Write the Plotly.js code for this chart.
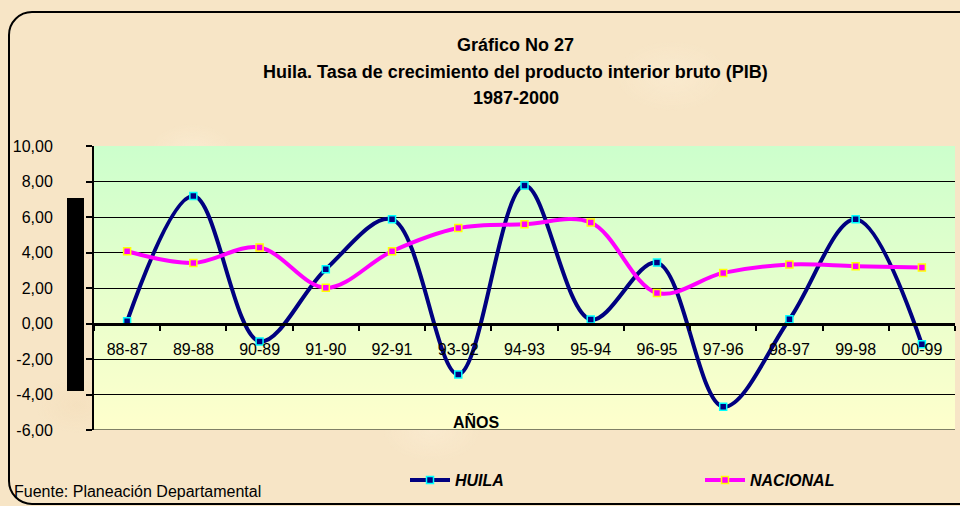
<!DOCTYPE html>
<html>
<head>
<meta charset="utf-8">
<script src="https://cdn.plot.ly/plotly-3.0.1.min.js"></script>
<style>
  html, body { margin: 0; padding: 0; width: 960px; height: 506px; overflow: hidden; }
  body {
    background-color: #f7e5c6;
    background-image:
      radial-gradient(ellipse 60px 40px at 20% 30%, rgba(255,243,222,0.4), rgba(255,243,222,0) 70%),
      radial-gradient(ellipse 80px 50px at 70% 15%, rgba(255,243,222,0.35), rgba(255,243,222,0) 70%),
      radial-gradient(ellipse 70px 45px at 45% 85%, rgba(255,243,222,0.35), rgba(255,243,222,0) 70%),
      radial-gradient(ellipse 90px 40px at 90% 70%, rgba(240,215,175,0.3), rgba(240,215,175,0) 70%),
      radial-gradient(ellipse 60px 40px at 8% 80%, rgba(240,215,175,0.3), rgba(240,215,175,0) 70%);
  }
  #frame {
    position: absolute; left: 8px; top: 11px; width: 980px; height: 494px;
    border: 2px solid #000; border-radius: 24px; box-sizing: border-box; pointer-events: none;
  }
  #chart { position: absolute; left: 0; top: 0; width: 960px; height: 506px; }
</style>
</head>
<body>
<div id="frame"></div>
<div id="chart"></div>
<script>
// ---- data ----
var categories = ["88-87","89-88","90-89","91-90","92-91","93-92","94-93","95-94","96-95","97-96","98-97","99-98","00-99"];
var huila =     [0.13, 7.18, -1.01, 3.06, 5.87, -2.87, 7.77, 0.22, 3.43, -4.69, 0.24, 5.87, -1.17];
var nacional =  [4.07, 3.41, 4.28, 2.01, 4.07, 5.38, 5.59, 5.69, 1.72, 2.85, 3.32, 3.23, 3.15];
var yTickVals = [-6, -4, -2, 0, 2, 4, 6, 8, 10];
var yTickLabels = ["-6,00","-4,00","-2,00","0,00","2,00","4,00","6,00","8,00","10,00"];
var seriesNames = ["HUILA", "NACIONAL"];

// ---- layout helpers (pixel -> paper) ----
var L = 94, R = 955, T = 146, B = 430;
var W = R - L, H = B - T;
function px(x) { return (x - L) / W; }
function py(y) { return (B - y) / H; }
var yMin = -6, yMax = 10;

var FONT = "Liberation Sans, Arial, sans-serif";

var traces = [
  {
    x: categories, y: huila, name: seriesNames[0], type: "scatter", mode: "lines+markers",
    line: { color: "#000080", width: 4, shape: "spline", smoothing: 1 },
    marker: { symbol: "square", size: 7, color: "#000080", line: { color: "#00ffff", width: 1.5 } }
  },
  {
    x: categories, y: nacional, name: seriesNames[1], type: "scatter", mode: "lines+markers",
    line: { color: "#ff00ff", width: 4, shape: "spline", smoothing: 1 },
    marker: { symbol: "square", size: 7, color: "#ff00ff", line: { color: "#ffff00", width: 1.5 } }
  }
];

var gradSvg = '<svg xmlns="http://www.w3.org/2000/svg" width="10" height="100" preserveAspectRatio="none">' +
  '<defs><linearGradient id="g" x1="0" y1="0" x2="0" y2="1">' +
  '<stop offset="0" stop-color="#ccffcc"/><stop offset="1" stop-color="#ffffcc"/>' +
  '</linearGradient></defs><rect width="10" height="100" fill="url(#g)"/></svg>';

var layout = {
  width: 960, height: 506,
  margin: { l: L, r: 960 - R, t: T, b: 506 - B, pad: 0, autoexpand: false },
  paper_bgcolor: "rgba(0,0,0,0)",
  plot_bgcolor: "rgba(0,0,0,0)",
  font: { family: FONT, size: 16, color: "#000" },
  showlegend: true,
  hovermode: false,
  xaxis: {
    type: "category",
    range: [-0.5, categories.length - 0.5],
    anchor: "free",
    position: (0 - yMin) / (yMax - yMin),
    showline: true, linecolor: "#000", linewidth: 3,
    ticks: "outside", tickson: "boundaries", ticklen: 5, tickwidth: 2, tickcolor: "#000",
    showgrid: false, zeroline: false,
    tickfont: { family: FONT, size: 16, color: "#000" },
    ticklabelstandoff: 10,
    automargin: false,
    fixedrange: true
  },
  yaxis: {
    range: [yMin, yMax],
    tickvals: yTickVals, ticktext: yTickLabels,
    showline: true, linecolor: "#000", linewidth: 2,
    ticks: "outside", ticklen: 6, tickwidth: 2, tickcolor: "#000",
    showgrid: true, gridcolor: "#000", gridwidth: 1,
    zeroline: false,
    tickfont: { family: FONT, size: 16, color: "#000" },
    ticklabelstandoff: 30,
    automargin: false,
    fixedrange: true
  },
  legend: {
    orientation: "h",
    x: px(405), y: py(480), xanchor: "left", yanchor: "middle",
    xref: "paper", yref: "paper",
    bgcolor: "rgba(0,0,0,0)",
    font: { family: FONT, size: 16, color: "#000", weight: "bold", style: "italic" },
    itemwidth: 40,
    entrywidth: 240, entrywidthmode: "pixels",
    tracegroupgap: 0
  },
  images: [{
    source: "data:image/svg+xml;charset=utf-8," + encodeURIComponent(gradSvg),
    xref: "paper", yref: "paper", x: 0, y: 1, sizex: 1, sizey: 1,
    xanchor: "left", yanchor: "top", sizing: "stretch", layer: "below"
  }],
  shapes: [
    {
      type: "rect", xref: "paper", yref: "paper",
      x0: px(67), x1: px(84), y0: py(391), y1: py(198),
      fillcolor: "#000", line: { width: 0 }
    },
    {
      type: "line", xref: "paper", yref: "y", layer: "below",
      x0: 0, x1: 1, y0: yMin, y1: yMin,
      line: { color: "#000", width: 1 }
    }
  ],
  annotations: [
    { text: "Gráfico No 27", x: px(515), y: py(45), xref: "paper", yref: "paper", xanchor: "center", yanchor: "middle", showarrow: false, font: { family: FONT, size: 18, weight: "bold", color: "#000" } },
    { text: "Huila. Tasa de crecimiento del producto interior bruto (PIB)", x: px(515), y: py(72), xref: "paper", yref: "paper", xanchor: "center", yanchor: "middle", showarrow: false, font: { family: FONT, size: 18, weight: "bold", color: "#000" } },
    { text: "1987-2000", x: px(516), y: py(98), xref: "paper", yref: "paper", xanchor: "center", yanchor: "middle", showarrow: false, font: { family: FONT, size: 18, weight: "bold", color: "#000" } },
    { text: "AÑOS", x: px(476), y: py(421), xref: "paper", yref: "paper", xanchor: "center", yanchor: "middle", showarrow: false, font: { family: FONT, size: 16, weight: "bold", color: "#000" } },
    { text: "Fuente: Planeación Departamental", x: px(12), y: py(491), xref: "paper", yref: "paper", xanchor: "left", yanchor: "middle", showarrow: false, font: { family: FONT, size: 16, color: "#000" } }
  ]
};

Plotly.newPlot("chart", traces, layout, { displayModeBar: false, staticPlot: true });
</script>
</body>
</html>
